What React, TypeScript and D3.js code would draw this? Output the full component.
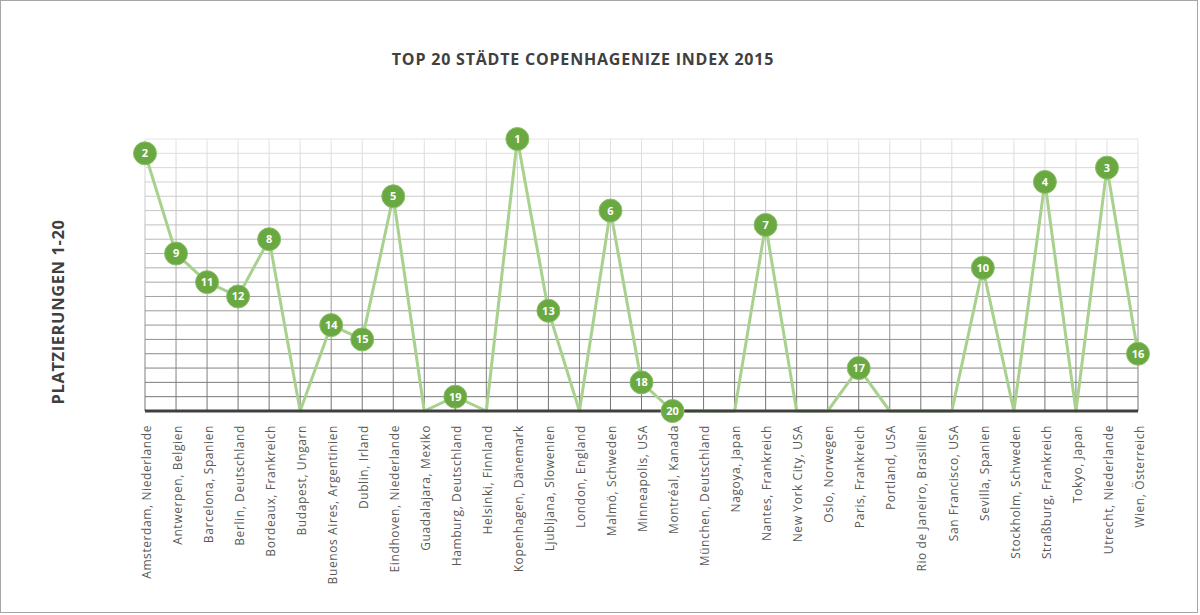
import React, { useRef, useEffect } from 'react';
import * as d3 from 'd3';

const cities = [
  'Amsterdam, Niederlande', 'Antwerpen, Belgien', 'Barcelona, Spanien', 'Berlin, Deutschland',
  'Bordeaux, Frankreich', 'Budapest, Ungarn', 'Buenos Aires, Argentinien', 'Dublin, Irland',
  'Eindhoven, Niederlande', 'Guadalajara, Mexiko', 'Hamburg, Deutschland', 'Helsinki, Finnland',
  'Kopenhagen, Dänemark', 'Ljubljana, Slowenien', 'London, England', 'Malmö, Schweden',
  'Minneapolis, USA', 'Montréal, Kanada', 'München, Deutschland', 'Nagoya, Japan',
  'Nantes, Frankreich', 'New York City, USA', 'Oslo, Norwegen', 'Paris, Frankreich',
  'Portland, USA', 'Rio de Janeiro, Brasilien', 'San Francisco, USA', 'Sevilla, Spanien',
  'Stockholm, Schweden', 'Straßburg, Frankreich', 'Tokyo, Japan', 'Utrecht, Niederlande',
  'Wien, Österreich',
];

// Platzierung 1-20, null = nicht in den Top 20
const ranks = [
  2, 9, 11, 12,
  8, null, 14, 15,
  5, null, 19, null,
  1, 13, null, 6,
  18, 20, null, null,
  7, null, null, 17,
  null, null, null, 10,
  null, 4, null, 3,
  16,
];

const title = 'TOP 20 STÄDTE COPENHAGENIZE INDEX 2015';
const yTitle = 'PLATZIERUNGEN 1-20';

const W = 1200;
const H = 615;

const App = () => {
  const ref = useRef(null);

  useEffect(() => {
    const svg = d3.select(ref.current);
    svg.selectAll('*').remove();

    const data = cities.map((c, i) => ({ city: c, rank: ranks[i], v: ranks[i] == null ? 0 : 20 - ranks[i] }));

    const x = d3.scalePoint().domain(cities).range([145, 1138]);
    const y = d3.scaleLinear().domain([0, 19]).range([411, 139]);

    svg.append('rect')
      .attr('x', 0.5).attr('y', 0.5).attr('width', W - 3).attr('height', H - 3)
      .attr('fill', '#fff').attr('stroke', '#a6a6a6');

    const defs = svg.append('defs');
    const grad = defs.append('linearGradient')
      .attr('id', 'gridGrad').attr('gradientUnits', 'userSpaceOnUse')
      .attr('x1', 0).attr('x2', 0).attr('y1', y(19)).attr('y2', y(0));
    grad.append('stop').attr('offset', '0%').attr('stop-color', '#e4e4e4');
    grad.append('stop').attr('offset', '100%').attr('stop-color', '#707070');

    const grid = svg.append('g');
    grid.selectAll('line.h')
      .data(d3.range(1, 20))
      .join('line')
      .attr('class', 'h')
      .attr('x1', x.range()[0]).attr('x2', x.range()[1])
      .attr('y1', d => y(d)).attr('y2', d => y(d))
      .attr('stroke', 'url(#gridGrad)').attr('stroke-width', 1);
    grid.selectAll('line.v')
      .data(cities)
      .join('line')
      .attr('class', 'v')
      .attr('x1', d => x(d)).attr('x2', d => x(d))
      .attr('y1', y(19)).attr('y2', y(0))
      .attr('stroke', 'url(#gridGrad)').attr('stroke-width', 1);

    const line = d3.line()
      .x(d => x(d.city))
      .y(d => y(d.v));

    svg.append('path')
      .datum(data)
      .attr('d', line)
      .attr('fill', 'none')
      .attr('stroke', '#a9d18e')
      .attr('stroke-width', 3)
      .attr('stroke-linejoin', 'round');

    // Grundlinie über der Linie, damit Nullwerte verschwinden
    svg.append('line')
      .attr('x1', x.range()[0]).attr('x2', x.range()[1])
      .attr('y1', y(0)).attr('y2', y(0))
      .attr('stroke', '#404040').attr('stroke-width', 3);

    const pts = svg.selectAll('g.pt')
      .data(data.filter(d => d.rank != null))
      .join('g')
      .attr('class', 'pt')
      .attr('transform', d => `translate(${x(d.city)},${y(d.v)})`);
    pts.append('circle')
      .attr('r', 11.5)
      .attr('fill', '#6aa842')
      .attr('stroke', '#8cc06a')
      .attr('stroke-width', 1);
    pts.append('text')
      .attr('text-anchor', 'middle')
      .attr('dy', '0.36em')
      .attr('fill', '#fff')
      .attr('font-family', 'Open Sans, sans-serif')
      .attr('font-size', 11)
      .attr('font-weight', 700)
      .text(d => d.rank);

    svg.append('g')
      .selectAll('text')
      .data(cities)
      .join('text')
      .attr('transform', d => `translate(${x(d) + 1.5},425) rotate(-90)`)
      .attr('text-anchor', 'end')
      .attr('dy', '0.35em')
      .attr('fill', '#595959')
      .attr('font-family', 'Open Sans, sans-serif')
      .attr('font-size', 12)
      .attr('letter-spacing', 0.6)
      .text(d => d);

    svg.append('text')
      .attr('x', 583).attr('y', 65)
      .attr('text-anchor', 'middle')
      .attr('fill', '#404040')
      .attr('font-family', 'Open Sans, sans-serif')
      .attr('font-size', 16)
      .attr('font-weight', 700)
      .attr('letter-spacing', 0.8)
      .text(title);

    svg.append('text')
      .attr('transform', 'translate(58,312) rotate(-90)')
      .attr('text-anchor', 'middle')
      .attr('dy', '0.35em')
      .attr('fill', '#404040')
      .attr('font-family', 'Open Sans, sans-serif')
      .attr('font-size', 16.5)
      .attr('font-weight', 700)
      .attr('letter-spacing', 0.6)
      .text(yTitle);
  }, []);

  return (
    <svg ref={ref} width={W} height={H} style={{ position: 'absolute', left: 0, top: 0 }} />
  );
};

export default App;
